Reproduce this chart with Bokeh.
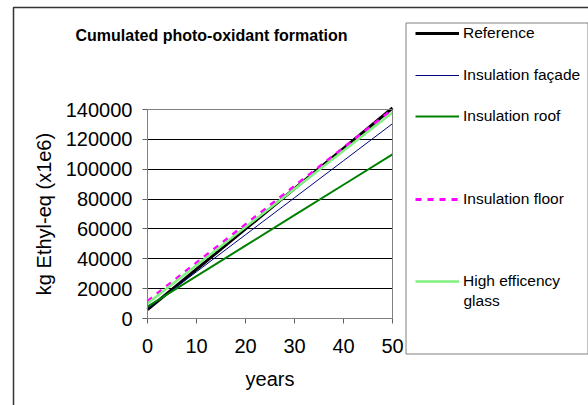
from bokeh.plotting import figure
from bokeh.models import (Range1d, FixedTicker, NumeralTickFormatter, Legend, LegendItem,
                          Label, BoxAnnotation, LinearAxis, Grid)
from bokeh.embed import file_html
from bokeh.resources import INLINE

# ---- data ----
years = [0, 10, 20, 30, 40, 50]
reference = [6000, 33000, 60000, 87000, 114000, 141000]
insulation_facade = [6500, 31300, 56100, 80900, 105700, 130500]
insulation_roof = [8000, 28400, 48800, 69200, 89600, 110000]
insulation_floor = [11500, 37200, 62900, 88600, 114300, 140000]
high_eff_glass = [10000, 35600, 61200, 86800, 112400, 138000]

x_ticks = [0, 10, 20, 30, 40, 50]
y_ticks = [0, 20000, 40000, 60000, 80000, 100000, 120000, 140000]

series_names = ["Reference", "Insulation façade", "Insulation roof",
                "Insulation floor", "High efficency"]

FONT = "Liberation Sans"
W, H = 588, 405

# plot-area placement inside the page (pixels)
PL, PR, PT, PB = 147.0, 392.0, 109.0, 318.0
X0, X1 = x_ticks[0], x_ticks[-1]
Y0, Y1 = y_ticks[0], y_ticks[-1]
sx = (PR - PL) / (X1 - X0)
sy = (PB - PT) / (Y1 - Y0)
x_range = Range1d(X0 - PL / sx, X0 + (W - PL) / sx)
y_range = Range1d(Y0 - (H - PB) / sy, Y0 + PB / sy)

p = figure(width=W, height=H, output_backend="svg", toolbar_location=None,
           x_range=x_range, y_range=y_range, min_border=0,
           x_axis_location=None, y_axis_location=None)
p.background_fill_color = "white"
p.border_fill_color = "white"
p.outline_line_color = None
p.grid.visible = False

# axes fixed at the data origin
xaxis = LinearAxis(fixed_location=Y0, bounds=(X0, X1), ticker=FixedTicker(ticks=x_ticks),
                   axis_label="years")
yaxis = LinearAxis(fixed_location=X0, bounds=(Y0, Y1), ticker=FixedTicker(ticks=y_ticks),
                   formatter=NumeralTickFormatter(format="0"),
                   axis_label="kg Ethyl-eq (x1e6)")
for ax in (xaxis, yaxis):
    ax.axis_line_color = "#808080"
    ax.major_tick_line_color = "#606060"
    ax.major_tick_out = 5
    ax.major_tick_in = 0
    ax.minor_tick_line_color = None
    ax.major_label_text_font = FONT
    ax.major_label_text_font_size = "20px"
    ax.major_label_text_color = "black"
    ax.axis_label_text_font = FONT
    ax.axis_label_text_font_size = "20px"
    ax.axis_label_text_font_style = "normal"
    ax.axis_label_text_color = "black"
yaxis.major_label_standoff = 10
yaxis.axis_label_standoff = 8
xaxis.major_label_standoff = 15
xaxis.axis_label_standoff = 12
p.add_layout(xaxis, "below")
p.add_layout(yaxis, "left")

# horizontal gridlines limited to the plot area
ygrid = Grid(dimension=1, ticker=FixedTicker(ticks=y_ticks[1:-1]), cross_bounds=(X0, X1),
             grid_line_color="black", grid_line_width=1)
p.add_layout(ygrid, "center")

# plot area border
p.add_layout(BoxAnnotation(left=X0, right=X1, bottom=Y0, top=Y1,
                           fill_alpha=0, line_color="#808080", line_alpha=1, line_width=1))

# lines
r_ref = p.line(years, reference, line_color="black", line_width=3)
r_fac = p.line(years, insulation_facade, line_color="#000080", line_width=1)
r_roof = p.line(years, insulation_roof, line_color="#008000", line_width=2)
r_floor = p.line(years, insulation_floor, line_color="#FF00FF", line_width=3, line_dash="6 6")
r_glass = p.line(years, high_eff_glass, line_color="#80F080", line_width=2.5)

# outer chart frame and legend box
p.add_layout(BoxAnnotation(left=13, right=700, top=7, bottom=600,
                           left_units="canvas", right_units="canvas",
                           top_units="canvas", bottom_units="canvas",
                           fill_alpha=0, line_color="#333333", line_alpha=1, line_width=1.5))
p.add_layout(BoxAnnotation(left=405.5, right=587.5, top=22.5, bottom=353.5,
                           left_units="canvas", right_units="canvas",
                           top_units="canvas", bottom_units="canvas",
                           fill_alpha=0, line_color="#808080", line_alpha=1, line_width=1))

# legend entries (one per row, Excel-like irregular spacing)
renderers = [r_ref, r_fac, r_roof, r_floor, r_glass]
centers = [33, 75, 116, 199, 281]
for name, r, cy in zip(series_names, renderers, centers):
    leg = Legend(items=[LegendItem(label=name, renderers=[r])],
                 location=(415, H - 10 - cy), orientation="vertical",
                 padding=0, margin=0, spacing=0,
                 border_line_alpha=0, background_fill_alpha=0,
                 glyph_width=44, glyph_height=20, label_height=20, label_standoff=4,
                 label_text_font=FONT, label_text_font_size="15.5px",
                 label_text_color="black")
    p.add_layout(leg, "center")

p.add_layout(Label(x=463, y=300, x_units="canvas", y_units="canvas", text="glass",
                   text_font=FONT, text_font_size="15.5px", text_color="black",
                   text_baseline="middle", text_align="left"))

# chart title
p.add_layout(Label(x=211, y=35, x_units="canvas", y_units="canvas",
                   text="Cumulated photo-oxidant formation",
                   text_font=FONT, text_font_size="16px", text_font_style="bold",
                   text_color="black", text_align="center", text_baseline="alphabetic"))

open("out.html", "w").write(file_html(p, INLINE))
